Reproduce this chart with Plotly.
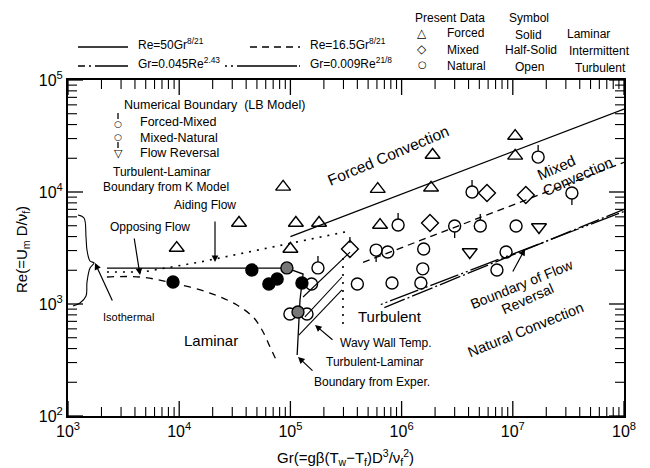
import math
import plotly.graph_objects as go

# ---------------- data ----------------
# Present data: forced (open triangles)
forced_gr = [9.5e3, 3.45e4, 8.6e4, 1.12e5, 1.81e5, 1.0e5, 6.1e5, 1.9e6, 1.84e6, 1.05e7, 1.05e7, 6.4e5]
forced_re = [3160, 5290, 1.11e4, 5290, 5290, 3100, 1.06e4, 2.14e4, 1.09e4, 3.16e4, 2.1e4, 5070]
# mixed (open diamonds)
mixed_gr = [5.86e6, 1.8e6, 1.31e7, 3.43e5]
mixed_re = [9800, 5290, 9400, 3100]
# natural, turbulent (open circles)
nat_gr = [4.0e5, 8.2e5, 1.49e6, 1.55e6, 1.58e6, 7.5e5, 7.2e6, 8.7e6, 1.07e7, 1.55e5, 9.9e4, 1.41e5]
nat_re = [1510, 1540, 1540, 2060, 3100, 2910, 2010, 2910, 4970, 1510, 815, 815]
# natural, laminar (solid circles)
lam_gr = [8.8e3, 4.5e4, 6.4e4, 7.6e4, 1.27e5]
lam_re = [1570, 2010, 1510, 1670, 1540]
# natural, intermittent (half-solid circles)
int_gr = [9.3e4, 1.17e5]
int_re = [2100, 849]
# isothermal data at Gr = 1e3 (squares)
iso_open_gr = [1e3, 1e3]
iso_open_re = [6200, 3030]
iso_solid_gr = [1e3, 1e3, 1e3]
iso_solid_re = [2050, 1540, 1040]
# numerical boundary (LB model)
fm_gr = [4.3e6, 9.3e5, 5.1e6, 1.69e7, 1.77e5]          # forced-mixed
fm_re = [1.0e4, 5070, 4970, 2.05e4, 2100]
mn_gr = [3.4e7, 3.0e6, 5.9e5]                          # mixed-natural
mn_re = [9800, 4970, 3030]
fr_gr = [4.1e6, 1.72e7]                                # flow reversal
fr_re = [2910, 4870]

# correlation lines (end points)
l50_gr = [1.0e5, 1.0e8]
l50_re = [4000, 55000]
l165_gr = [4.5e5, 1.0e8]
l165_re = [2350, 18400]
l045_gr = [7.0e5, 1.0e8]
l045_re = [930, 7000]
l009_gr = [6.5e5, 1.0e8]
l009_re = [990, 6700]

# boundaries
exp_gr = [2.24e3, 9.3e4, 1.30e5, 1.22e5, 1.15e5]
exp_re = [2095, 2095, 1852, 1086, 351]
kmod_gr = [2.24e3, 4.7e3, 1.54e4, 1.05e5, 3.44e5]
kmod_re = [1930, 1930, 2370, 3510, 4490]
kvert_gr = [2.97e5, 2.97e5]
kvert_re = [2577, 586]
lamb_gr = [2.24e3, 4.43e3, 8.8e3, 1.89e4, 3.31e4, 4.61e4, 5.56e4, 6.56e4, 7.6e4]
lamb_re = [1742, 1742, 1540, 1253, 979, 766, 586, 413, 303]
iso_gr = [1230, 1393, 1452, 1482, 1578, 1715, 1578, 1482, 1452, 1282, 1109]
iso_re = [6240, 5860, 3960, 3030, 2420, 2325, 2095, 1570, 1178, 1020, 959]
wavy_gr = [[1.19e5, 2.91e5], [1.35e5, 2.91e5], [1.30e5, 3.44e5]]
wavy_re = [[528, 1334], [766, 1742], [1155, 2910]]

# axis ticks
x_major = [1e3, 1e4, 1e5, 1e6, 1e7, 1e8]
x_labels = ["10<sup>3</sup>", "10<sup>4</sup>", "10<sup>5</sup>",
            "10<sup>6</sup>", "10<sup>7</sup>", "10<sup>8</sup>"]
y_major = [1e2, 1e3, 1e4, 1e5]
y_labels = ["10<sup>2</sup>", "10<sup>3</sup>", "10<sup>4</sup>", "10<sup>5</sup>"]
digits = [2, 3, 4, 5, 6, 7, 8, 9]

# ---------------- figure ----------------
W, H = 650, 468
L, R, T, B = 68, 624, 80, 416
XR, YR = (3, 8), (2, 5)


def px(x):
    return (x - L) / (R - L)


def py(y):
    return (B - y) / (B - T)


FONT = "Liberation Sans, Arial, sans-serif"
SYM = "DejaVu Sans, sans-serif"
K = "black"

fig = go.Figure()


def line(xs, ys, dash="solid", width=1.3, shape="linear"):
    fig.add_trace(go.Scatter(x=xs, y=ys, mode="lines", showlegend=False,
                             line=dict(color=K, width=width, dash=dash, shape=shape),
                             hoverinfo="skip"))


line(l50_gr, l50_re)
line(l165_gr, l165_re, dash="7px,5px")
line(l045_gr, l045_re, dash="22px,3px,2px,3px")
line(l009_gr, l009_re, dash="2px,3px,2px,3px,30px,3px")
line(exp_gr, exp_re)
line(kmod_gr, kmod_re, dash="2px,6px", width=1.6)
line(kvert_gr, kvert_re, dash="2px,6px", width=1.6)
line(lamb_gr, lamb_re, dash="7px,6px", shape="spline")
line(iso_gr, iso_re, width=1.1, shape="spline")
for g, r in zip(wavy_gr, wavy_re):
    line(g, r, width=1.1)

# stems of numerical-boundary symbols (offsets are circle radius / stem length)
dpp = 3.0 / (B - T)          # decades per pixel
r0, r1 = 10 ** (6 * dpp), 10 ** (12 * dpp)
top_gr, top_re = fm_gr + [mixed_gr[3]], fm_re + [mixed_re[3]]
sx, sy = [], []
for g, r in zip(top_gr, top_re):
    sx += [g, g, None]
    sy += [r * r0, r * r1, None]
for g, r in zip(mn_gr, mn_re):
    sx += [g, g, None]
    sy += [r / r0, r / r1, None]
line(sx, sy, width=1.3)


def pts(xs, ys, symbol, size, fill=K, lw=1.4, clip=True):
    fig.add_trace(go.Scatter(x=xs, y=ys, mode="markers", showlegend=False,
                             hoverinfo="skip", cliponaxis=clip,
                             marker=dict(symbol=symbol, size=size, color=fill,
                                         line=dict(color=K, width=lw))))


pts(forced_gr, forced_re, "triangle-up-open", 13)
pts(mixed_gr, mixed_re, "diamond-open", 13)
pts(nat_gr, nat_re, "circle-open", 12)
pts(fm_gr, fm_re, "circle-open", 12)
pts(mn_gr, mn_re, "circle-open", 12)
pts(fr_gr, fr_re, "triangle-down-open", 13)
pts(lam_gr, lam_re, "circle", 12)
pts(int_gr, int_re, "circle", 12, fill="#777")
pts(iso_open_gr, iso_open_re, "square", 11, fill="white", clip=False)
pts(iso_solid_gr, iso_solid_re, "square", 11, clip=False)

ann = []


def text(x, y, s, size=12, angle=0, xanchor="center", font=FONT):
    ann.append(dict(x=px(x), y=py(y), xref="paper", yref="paper", text=s,
                    showarrow=False, xanchor=xanchor, yanchor="middle",
                    textangle=angle, font=dict(family=font, size=size, color=K)))


def arrow(hx, hy, tx, ty):
    ann.append(dict(x=px(hx), y=py(hy), xref="paper", yref="paper", text="",
                    showarrow=True, ax=tx - hx, ay=ty - hy, arrowhead=2,
                    arrowsize=1.1, arrowwidth=1.2, arrowcolor=K))


# top legend
text(136, 44, "Re=50Gr<sup>8/21</sup>", 12, xanchor="left")
text(308, 44, "Re=16.5Gr<sup>8/21</sup>", 12, xanchor="left")
text(136, 63, "Gr=0.045Re<sup>2.43</sup>", 12, xanchor="left")
text(308, 63, "Gr=0.009Re<sup>21/8</sup>", 12, xanchor="left")
text(450, 18, "Present Data", 12)
text(529, 18, "Symbol", 12)
text(422, 33, "△", 12, font=SYM)
text(422, 49, "◇", 12, font=SYM)
text(422, 65, "○", 10, font=SYM)
text(445, 33, "Forced", 12, xanchor="left")
text(445, 50, "Mixed", 12, xanchor="left")
text(445, 66, "Natural", 12, xanchor="left")
text(528, 35, "Solid", 12)
text(531, 50, "Half-Solid", 12)
text(529, 67, "Open", 12)
text(588, 34, "Laminar", 12)
text(599, 51, "Intermittent", 12)
text(600, 68, "Turbulent", 12)

# numerical boundary legend
text(122, 105, "Numerical Boundary  (LB Model)", 12.5, xanchor="left")
text(138, 122, "Forced-Mixed", 12.5, xanchor="left")
text(138, 138, "Mixed-Natural", 12.5, xanchor="left")
text(138, 153, "Flow Reversal", 12.5, xanchor="left")
text(118, 124, "○", 9, font=SYM)
text(118, 137, "○", 9, font=SYM)
text(118, 153, "▽", 11, font=SYM)

# region labels
text(162, 172, "Turbulent-Laminar", 12)
text(166, 187, "Boundary from K Model", 12)
text(205, 205, "Aiding Flow", 12)
text(150, 227, "Opposing Flow", 12)
text(128, 317, "Isothermal", 11)
text(211, 340, "Laminar", 15)
text(390, 316, "Turbulent", 15)
text(388, 155, "Forced Convection", 15.5, angle=-23)
text(556, 167, "Mixed", 15, angle=-24)
text(577, 176, "Convection", 15, angle=-24)
text(522, 284, "Boundary of Flow", 14, angle=-22)
text(527, 299, "Reversal", 14, angle=-24)
text(525, 330, "Natural Convection", 14.5, angle=-22)
text(338, 343, "Wavy Wall Temp.", 12, xanchor="left")
text(375, 362, "Turbulent-Laminar", 12)
text(372, 382, "Boundary from Exper.", 12)

# arrows
arrow(215, 262, 215, 220)
arrow(140, 275, 134, 237)
arrow(95, 263, 113, 302)
arrow(525, 249, 512, 273)
arrow(315, 325, 334, 341)
arrow(298, 357, 314, 372)

# axis titles
text(345, 457, "Gr(=gβ(T<sub>w</sub>−T<sub>f</sub>)D<sup>3</sup>/ν<sub>f</sub><sup>2</sup>)", 15)
text(22, 250, "Re(=U<sub>m</sub> D/ν<sub>f</sub>)", 15, angle=-90)

# shapes: legend line samples and stems of numerical-boundary legend symbols
shapes = []


def seg(x0, x1, y0, y1, dash="solid"):
    shapes.append(dict(type="line", xref="paper", yref="paper",
                       x0=px(x0), x1=px(x1), y0=py(y0), y1=py(y1),
                       line=dict(color=K, width=1.3, dash=dash)))


seg(78, 128, 47, 47)
seg(250, 300, 47, 47, "7px,5px")
seg(78, 128, 66, 66, "7px,4px,2px,4px,40px")
seg(225, 300, 66, 66, "2px,4px,2px,4px,60px")
seg(118, 118, 119, 113)
seg(118, 118, 142, 148)

# inside tick marks on all four sides, placed from the tick value lists
MAJ, MIN = 15, 9
pw, ph = R - L, B - T


def frac(v, rng):
    return (math.log10(v) - rng[0]) / (rng[1] - rng[0])


def tick_shape(x0, x1, y0, y1, w):
    shapes.append(dict(type="line", xref="paper", yref="paper", layer="above",
                       x0=x0, x1=x1, y0=y0, y1=y1, line=dict(color=K, width=w)))


x_minor = [d * 10 ** e for e in range(XR[0], XR[1]) for d in digits]
y_minor = [d * 10 ** e for e in range(YR[0], YR[1]) for d in digits]
for vals, ln, w in ((x_major, MAJ, 1.3), (x_minor, MIN, 1.1)):
    for v in vals:
        f = frac(v, XR)
        tick_shape(f, f, 0, ln / ph, w)
        tick_shape(f, f, 1, 1 - ln / ph, w)
for vals, ln, w in ((y_major, MAJ, 1.3), (y_minor, MIN, 1.1)):
    for v in vals:
        f = frac(v, YR)
        tick_shape(0, ln / pw, f, f, w)
        tick_shape(1, 1 - ln / pw, f, f, w)


def axis(major, labels, rng):
    return dict(type="log", range=list(rng), showgrid=False, zeroline=False,
                showline=True, linecolor=K, linewidth=2, mirror=True,
                ticks="", tickmode="array", tickvals=major, ticktext=labels,
                tickfont=dict(family=FONT, size=16, color=K))


fig.update_layout(
    width=W, height=H,
    margin=dict(l=L, r=W - R, t=T, b=H - B),
    paper_bgcolor="white", plot_bgcolor="white",
    xaxis=axis(x_major, x_labels, XR),
    yaxis=axis(y_major, y_labels, YR),
    annotations=ann, shapes=shapes, showlegend=False,
)

fig.write_html("out.html")
